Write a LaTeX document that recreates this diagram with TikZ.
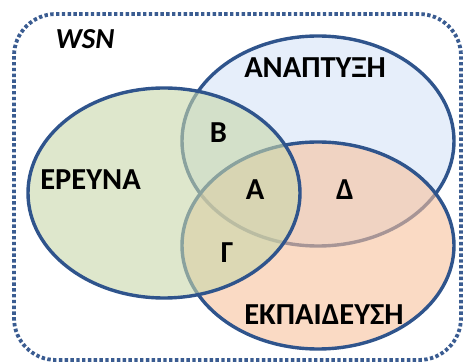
\documentclass[tikz,border=0pt]{standalone}
\usepackage{fontspec}
\setmainfont{Carlito}
\usetikzlibrary{shapes.geometric}
\definecolor{edgeblue}{RGB}{47,84,140}
\definecolor{framecol}{RGB}{58,92,145}
\definecolor{gfill}{RGB}{200,215,170}
\definecolor{bfill}{RGB}{213,227,247}
\definecolor{ofill}{RGB}{247,193,157}
\tikzset{
  setbubble/.style={ellipse, draw=edgeblue, line width=3.4pt, fill opacity=0.6,
    minimum width=272pt, minimum height=210pt, inner sep=0pt},
  setlabel/.style={anchor=base, inner sep=0pt, text=black,
    font=\fontsize{30.5}{36}\selectfont\bfseries},
  framebox/.style={draw=framecol, line width=3.8pt, dash pattern=on 3.4pt off 2.4pt,
    rounded corners=42pt}
}
\begin{document}
\begin{tikzpicture}[x=1pt,y=-1pt]
\useasboundingbox (0,0) rectangle (464,363);
\node[framebox, minimum width=447pt, minimum height=346pt, inner sep=0pt] (frame) at (237.5,187) {};
\node[setbubble, fill=bfill] (anaptyxi) at (318,141) {};
\node[setbubble, fill=ofill, minimum height=207pt] (ekpaideysi) at (318,245.5) {};
\node[setbubble, fill=gfill] (ereyna) at (164,193) {};
\node[setlabel, font=\fontsize{29}{35}\selectfont\bfseries\itshape] (wsn) at (85,49) {WSN};
\node[setlabel] (lanap) at (315,78) {ΑΝΑΠΤΥΞΗ};
\node[setlabel] (lerey) at (90.5,190) {ΕΡΕΥΝΑ};
\node[setlabel] (lekp) at (324,325) {ΕΚΠΑΙΔΕΥΣΗ};
\node[setlabel] (lb) at (218.5,143) {Β};
\node[setlabel] (la) at (255,200) {Α};
\node[setlabel] (lg) at (227,263) {Γ};
\node[setlabel] (ld) at (345,200) {Δ};
\end{tikzpicture}
\end{document}
